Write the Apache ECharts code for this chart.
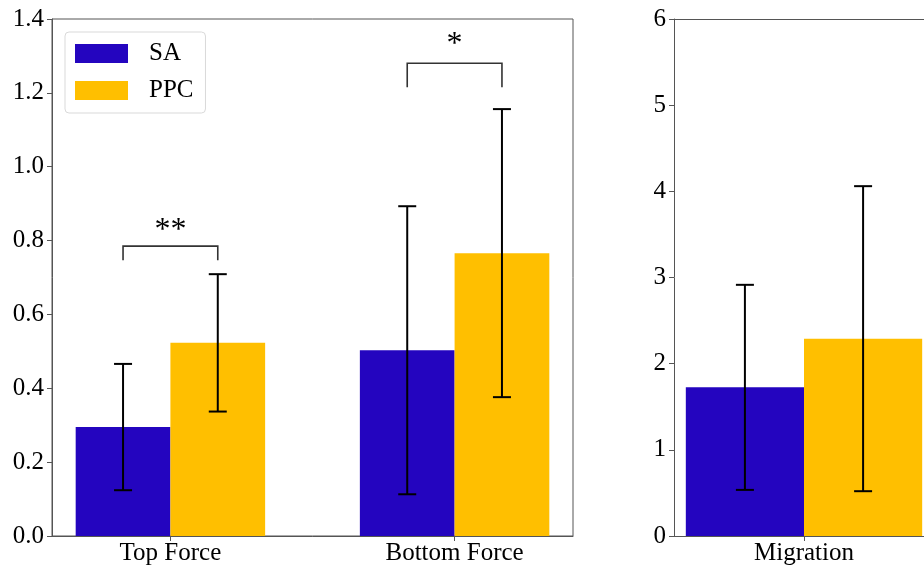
<!DOCTYPE html>
<html>
<head>
<meta charset="utf-8">
<script src="https://cdn.jsdelivr.net/npm/echarts@6/dist/echarts.min.js"></script>
<style>
  html, body { margin: 0; padding: 0; background: #fff; }
  #chart { width: 924px; height: 567px; }
</style>
</head>
<body>
<div id="chart"></div>
<script>
// force panel
var forceCats = ['Top Force', 'Bottom Force'];
var saForce = [0.295, 0.503];
var saForceErr = [0.171, 0.39];
var ppcForce = [0.523, 0.766];
var ppcForceErr = [0.186, 0.39];
var sigLabels = ['**', '*'];
var sigTop = [0.785, 1.28];
var sigLegEnd = [0.747, 1.215];
var sigTextY = [0.828, 1.33];

// migration panel
var migCats = ['Migration'];
var saMig = [1.725];
var saMigErr = [1.19];
var ppcMig = [2.29];
var ppcMigErr = [1.77];

var forceTicks = [0, 0.2, 0.4, 0.6, 0.8, 1.0, 1.2, 1.4];
var migTicks = [0, 1, 2, 3, 4, 5, 6];

var SA_COLOR = '#2405bf';
var PPC_COLOR = '#ffbf00';
var FONT = '"Liberation Serif", "DejaVu Serif", serif';
var BAR_W = 1 / 3;

var chart = echarts.init(document.getElementById('chart'), null, { renderer: 'canvas' });

function barItem(params, api) {
  var x = api.value(0), v = api.value(1);
  var p1 = api.coord([x - BAR_W / 2, v]);
  var p0 = api.coord([x + BAR_W / 2, 0]);
  return {
    type: 'rect',
    shape: { x: p1[0], y: p1[1], width: p0[0] - p1[0], height: p0[1] - p1[1] },
    style: { fill: api.visual('color') }
  };
}

function errItem(params, api) {
  var x = api.value(0), m = api.value(1), e = api.value(2);
  var hi = api.coord([x, m + e]);
  var lo = api.coord([x, m - e]);
  var cap = 9;
  var st = { stroke: '#000', lineWidth: 2 };
  return {
    type: 'group',
    children: [
      { type: 'line', shape: { x1: hi[0], y1: hi[1], x2: lo[0], y2: lo[1] }, style: st },
      { type: 'line', shape: { x1: hi[0] - cap, y1: hi[1], x2: hi[0] + cap, y2: hi[1] }, style: st },
      { type: 'line', shape: { x1: lo[0] - cap, y1: lo[1], x2: lo[0] + cap, y2: lo[1] }, style: st }
    ]
  };
}

function sigItem(params, api) {
  var i = api.value(0);
  var a = api.coord([i - BAR_W / 2, api.value(1)]);
  var b = api.coord([i + BAR_W / 2, api.value(1)]);
  var aEnd = api.coord([i - BAR_W / 2, api.value(2)]);
  var t = api.coord([i, api.value(3)]);
  var st = { stroke: '#333', lineWidth: 1.6, fill: null };
  return {
    type: 'group',
    children: [
      { type: 'polyline', shape: { points: [[a[0], aEnd[1]], a, b, [b[0], aEnd[1]]] }, style: st },
      { type: 'text', x: t[0], y: t[1], style: {
          text: sigLabels[params.dataIndex], fill: '#000', font: '32px ' + FONT,
          align: 'center', verticalAlign: 'middle' } }
    ]
  };
}

function build(means, offset) {
  return means.map(function(v, i) { return [i + offset, v]; });
}
function buildErr(means, errs, offset) {
  return means.map(function(v, i) { return [i + offset, v, errs[i]]; });
}

var axisLineStyle = { color: '#555', width: 1 };
var labelStyle = { color: '#000', fontSize: 25, fontFamily: FONT };

chart.setOption({
  animation: false,
  grid: [
    { left: 52, top: 19, width: 521, height: 517, show: true, borderColor: '#555', borderWidth: 1, backgroundColor: 'transparent' },
    { left: 674, top: 19, width: 250, height: 517, show: false }
  ],
  legend: {
    left: 65, top: 32,
    orient: 'vertical',
    data: [{ name: 'SA', icon: 'rect' }, { name: 'PPC', icon: 'rect' }],
    itemWidth: 53, itemHeight: 19, itemGap: 12,
    padding: [9, 12, 10, 10],
    backgroundColor: '#fff',
    borderColor: '#d9d9d9', borderWidth: 1, borderRadius: 4,
    textStyle: { color: '#000', fontSize: 25, fontFamily: FONT, padding: [0, 0, 0, 16] }
  },
  xAxis: [
    {
      type: 'value', gridIndex: 0, min: -5 / 12, max: 17 / 12,
      axisLine: { show: true, onZero: false, lineStyle: axisLineStyle },
      axisTick: { show: true, length: 5, lineStyle: axisLineStyle, customValues: [0, 1] },
      axisLabel: Object.assign({ customValues: [0, 1], margin: 5,
        formatter: function(v) { return forceCats[Math.round(v)]; } }, labelStyle),
      splitLine: { show: false }
    },
    {
      type: 'value', gridIndex: 1, min: -11 / 30, max: 11 / 30 * 120 / 130,
      axisLine: { show: true, onZero: false, lineStyle: axisLineStyle },
      axisTick: { show: true, length: 5, lineStyle: axisLineStyle, customValues: [0] },
      axisLabel: Object.assign({ customValues: [0], margin: 5,
        formatter: function(v) { return migCats[Math.round(v)]; } }, labelStyle),
      splitLine: { show: false }
    },
    {
      type: 'value', gridIndex: 1, position: 'top', min: -11 / 30, max: 11 / 30 * 120 / 130,
      axisLine: { show: true, onZero: false, lineStyle: axisLineStyle },
      axisTick: { show: false }, axisLabel: { show: false }, splitLine: { show: false }
    }
  ],
  yAxis: [
    {
      type: 'value', gridIndex: 0, min: 0, max: 1.4, interval: 0.2,
      axisLine: { show: true, onZero: false, lineStyle: axisLineStyle },
      axisTick: { show: true, length: 5, lineStyle: axisLineStyle },
      axisLabel: Object.assign({ margin: 8, customValues: forceTicks,
        formatter: function(v) { return v.toFixed(1); } }, labelStyle),
      splitLine: { show: false }
    },
    {
      type: 'value', gridIndex: 1, min: 0, max: 6, interval: 1,
      axisLine: { show: true, onZero: false, lineStyle: axisLineStyle },
      axisTick: { show: true, length: 5, lineStyle: axisLineStyle },
      axisLabel: Object.assign({ margin: 8, customValues: migTicks }, labelStyle),
      splitLine: { show: false }
    }
  ],
  series: [
    { name: 'SA', type: 'custom', xAxisIndex: 0, yAxisIndex: 0, itemStyle: { color: SA_COLOR },
      renderItem: barItem, data: build(saForce, -1 / 6), z: 2 },
    { name: 'PPC', type: 'custom', xAxisIndex: 0, yAxisIndex: 0, itemStyle: { color: PPC_COLOR },
      renderItem: barItem, data: build(ppcForce, 1 / 6), z: 2 },
    { name: 'SA', type: 'custom', xAxisIndex: 1, yAxisIndex: 1, itemStyle: { color: SA_COLOR },
      renderItem: barItem, data: build(saMig, -1 / 6), z: 2 },
    { name: 'PPC', type: 'custom', xAxisIndex: 1, yAxisIndex: 1, itemStyle: { color: PPC_COLOR },
      renderItem: barItem, data: build(ppcMig, 1 / 6), z: 2 },
    { name: 'errF', type: 'custom', xAxisIndex: 0, yAxisIndex: 0, z: 3, renderItem: errItem,
      data: buildErr(saForce, saForceErr, -1 / 6).concat(buildErr(ppcForce, ppcForceErr, 1 / 6)) },
    { name: 'errM', type: 'custom', xAxisIndex: 1, yAxisIndex: 1, z: 3, renderItem: errItem,
      data: buildErr(saMig, saMigErr, -1 / 6).concat(buildErr(ppcMig, ppcMigErr, 1 / 6)) },
    { name: 'sig', type: 'custom', xAxisIndex: 0, yAxisIndex: 0, z: 3, renderItem: sigItem,
      data: sigTop.map(function(v, i) { return [i, v, sigLegEnd[i], sigTextY[i]]; }) }
  ]
});
</script>
</body>
</html>
